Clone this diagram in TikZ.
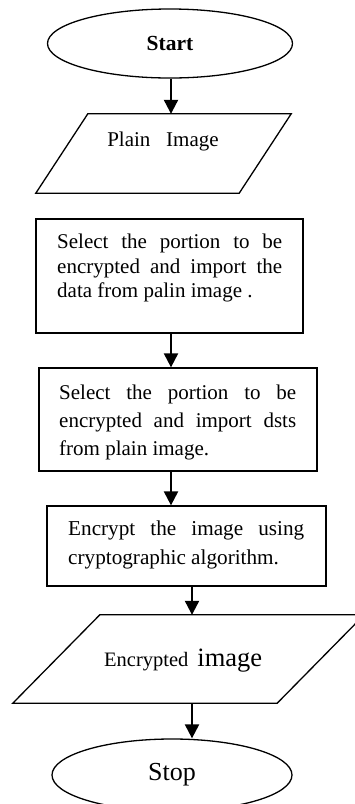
\documentclass[tikz,border=0pt]{standalone}
\usepackage{fontspec}
\setmainfont{Liberation Serif}
\usetikzlibrary{shapes.geometric,arrows.meta,calc}
\begin{document}
\begin{tikzpicture}[x=1pt,y=-1pt,
  shapeline/.style={draw=black,line width=1.3pt},
  term/.style={shapeline,ellipse,inner sep=0pt},
  pgram/.style={draw=none,rectangle,inner sep=0pt},
  procbox/.style={shapeline,rectangle,inner sep=0pt},
  boxtext/.style={anchor=north west,inner sep=0pt,align=justify},
  arr/.style={line width=2.2pt,-{Triangle[width=14pt,length=14pt]}}
]
\useasboundingbox (0,0) rectangle (355,804);
\clip (0,0) rectangle (355,804);

% Start
\node[term,minimum width=245pt,minimum height=69pt,font={\fontsize{21.5}{25}\selectfont\bfseries}] (start) at (170,43.5) {Start};

% Plain image parallelogram
\node[pgram,minimum width=255pt,minimum height=79pt] (p1) at (163.5,153.5) {};
\draw[shapeline] ($(p1.north west)+(52pt,0)$) -- (p1.north east) -- ($(p1.south east)-(52pt,0)$) -- (p1.south west) -- cycle;
\node[anchor=base,inner sep=0pt,font={\fontsize{21}{24}\selectfont}] (p1t) at (163,146) {Plain~~~Image};

% Box 1
\node[procbox,minimum width=267pt,minimum height=114pt] (b1) at (169.5,276) {};
\node[boxtext,text width=225pt,font={\fontsize{21}{24.5}\selectfont}] (b1t) at (57,234)
  {Select the portion to be\linebreak encrypted and import the\linebreak data from palin image .};

% Box 2
\node[procbox,minimum width=278pt,minimum height=103pt] (b2) at (178,419.5) {};
\node[boxtext,text width=237pt,font={\fontsize{21}{28}\selectfont}] (b2t) at (59,385)
  {Select the portion to be\linebreak encrypted and import dsts\linebreak from plain image.};

% Box 3
\node[procbox,minimum width=279pt,minimum height=80pt] (b3) at (186.5,546) {};
\node[boxtext,text width=236pt,font={\fontsize{21.2}{29}\selectfont}] (b3t) at (68,521)
  {Encrypt the image using\linebreak cryptographic algorithm.};

% Encrypted image parallelogram
\node[pgram,minimum width=351pt,minimum height=88pt] (p2) at (188.5,659) {};
\draw[shapeline] ($(p2.north west)+(87pt,0)$) -- (p2.north east) -- ($(p2.south east)-(87pt,0)$) -- (p2.south west) -- cycle;
\node[anchor=base west,inner sep=0pt] (p2t) at (104,666) {{\fontsize{20.5}{24}\selectfont Encrypted}\hspace{9pt}{\fontsize{26.5}{30}\selectfont image}};

% Stop
\node[term,minimum width=240pt,minimum height=72pt,font={\fontsize{26}{30}\selectfont}] (stop) at (172,775) {Stop};

% Connectors
\coordinate (ax1) at (171,0);
\coordinate (ax2) at (192,0);
\draw[arr] (start.south -| ax1) -- (p1.north -| ax1);
\draw[arr] (b1.south -| ax1) -- (b2.north -| ax1);
\draw[arr] (b2.south -| ax1) -- (b3.north -| ax1);
\draw[arr] (b3.south -| ax2) -- (p2.north -| ax2);
\draw[arr] (p2.south -| ax2) -- (stop.north -| ax2);
\end{tikzpicture}
\end{document}
